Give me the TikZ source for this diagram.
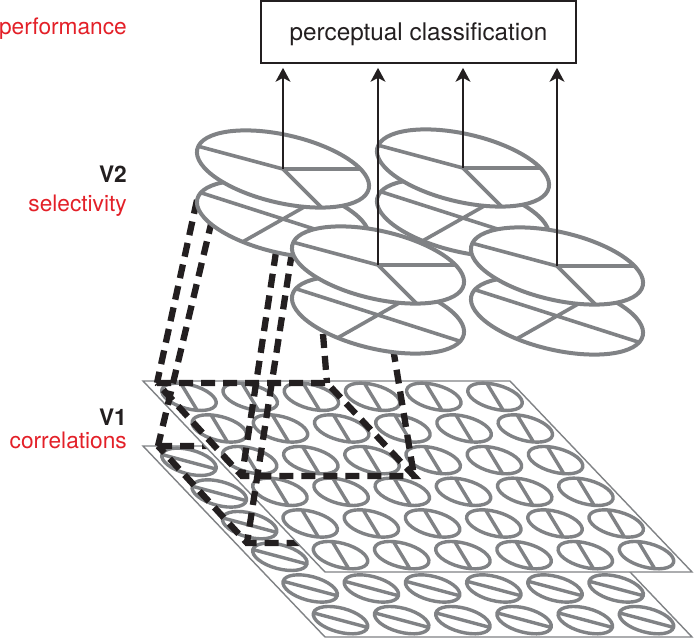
\documentclass[tikz,border=0pt]{standalone}
\usepackage{fontspec}
\setmainfont{TeX Gyre Heros}
\usetikzlibrary{arrows.meta}

\definecolor{rfred}{RGB}{227,32,40}
\definecolor{cellgray}{RGB}{128,130,133}
\definecolor{ink}{RGB}{35,31,32}

\tikzset{
  disc/.style={draw=cellgray, line width=4, fill=white},
  spoke/.style={draw=cellgray, line width=3.6},
  gabor/.style={draw=cellgray, line width=3.4},
  sheet/.style={draw=cellgray, line width=1.4, fill=white},
  rf/.style={draw=ink, line width=6.3, dash pattern=on 14pt off 8pt},
  feed/.style={draw=ink, line width=1.6, -{Stealth[length=14pt,width=15pt,inset=4pt]}, shorten >=4pt},
  lab/.style={inner sep=0, anchor=base east, font=\fontsize{22.7}{27}\selectfont},
}

% V2 unit: two stacked discs
\newcommand{\vtwocell}[1]{%
  \begin{scope}[shift={(#1)}]
    \filldraw[disc] (0,50) ellipse [x radius=88, y radius=34, rotate=-13];
    \begin{scope}
      \clip (0,50) ellipse [x radius=88, y radius=34, rotate=-13];
      \draw[spoke] (-100,18) -- (100,82) (-60,84) -- (60,16);
    \end{scope}
    \filldraw[disc] (0,0) ellipse [x radius=88, y radius=34, rotate=-13];
    \begin{scope}
      \clip (0,0) ellipse [x radius=88, y radius=34, rotate=-13];
      \draw[spoke] (0,0) -- (-97,-26) (0,0) -- (100,0) (0,0) -- (70,70);
    \end{scope}
  \end{scope}}

\begin{document}
\begin{tikzpicture}[x=1pt, y=-1pt]
        \useasboundingbox (0,0) rectangle (697,639);

        \coordinate (va) at (283,169);
        \coordinate (vb) at (463,168);
        \coordinate (vc) at (378,265);
        \coordinate (vd) at (557,266);

        \coordinate (a1) at (197,200);
        \coordinate (a2) at (212,220);
        \coordinate (a3) at (276,252);
        \coordinate (a4) at (292,252);
        \coordinate (c1) at (323,334);
        \coordinate (c2) at (393,348);

        \coordinate (uptl) at (157,383);
        \coordinate (uptr) at (327,383);
        \coordinate (upbr) at (414,476);
        \coordinate (upbl) at (242,476);
        \coordinate (lotl) at (158,446);
        \coordinate (lotr) at (328,446);
        \coordinate (lobr) at (417,543);
        \coordinate (lobl) at (247,543);

        % V1, lower sheet
        \filldraw[sheet] (143,446) -- (510,446) -- (692,637) -- (325,637) -- cycle;
        \foreach \i in {0,...,5}
          \foreach \j in {0,...,5}
            \draw[gabor, shift={({189+61.2*\j+30.3*\i},{461.8+31.67*\i})}, rotate=-15]
              (0,0) ellipse [x radius=28, y radius=12] (-28,0) -- (28,0);
        \draw[rf] (lotl) -- (lotr) -- (lobr) -- (lobl) -- cycle;

        % V1, upper sheet
        \filldraw[sheet] (143,381) -- (510,381) -- (692,572) -- (325,572) -- cycle;
        \foreach \i in {0,...,5}
          \foreach \j in {0,...,5}
            \draw[gabor, shift={({189+61.2*\j+30.3*\i},{396.8+31.67*\i})}, rotate=-15]
              (0,0) ellipse [x radius=28, y radius=12] (-11.5,-11) -- (11.5,11);
        \draw[rf] (uptl) -- (uptr) -- (upbr) -- (upbl) -- cycle;

        \draw[rf] (a1) -- (uptl);
        \draw[rf] (a2) -- (lotl);
        \draw[rf] (a3) -- (upbl);
        \draw[rf] (a4) -- (lobl);
        \draw[rf] (c1) -- (uptr);
        \draw[rf] (c2) -- (upbr);

        % V2
        \vtwocell{va}
        \vtwocell{vb}
        \vtwocell{vc}
        \vtwocell{vd}

        \node[draw=ink, line width=1.7, minimum width=315, minimum height=62, text=ink,
              font=\fontsize{24.3}{29}\selectfont, text depth=0pt] (classif) at (418.5,32) {perceptual classification};

        \draw[feed] (va) -- (va |- classif.south);
        \draw[feed] (vb) -- (vb |- classif.south);
        \draw[feed] (vc) -- (vc |- classif.south);
        \draw[feed] (vd) -- (vd |- classif.south);

        \node[lab, text=rfred] (perf) at (127,35) {performance};
        \node[lab, text=ink] (vtwo) at (127,183) {\textbf{V2}};
        \node[lab, text=rfred] (sel) at (127,212) {selectivity};
        \node[lab, text=ink] (vone) at (127,425) {\textbf{V1}};
        \node[lab, text=rfred] (corr) at (127,449) {correlations};

\end{tikzpicture}
\end{document}
